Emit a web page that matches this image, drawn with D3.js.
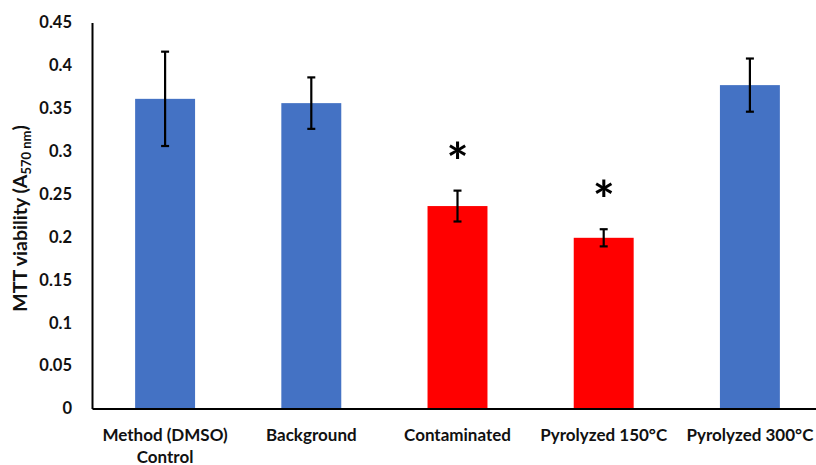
<!DOCTYPE html>
<html>
<head>
<meta charset="utf-8">
<script src="https://cdn.jsdelivr.net/npm/d3@7"></script>
<style>
  body { margin: 0; background: #fff; }
  text { font-family: Lato, "Open Sans", sans-serif; font-weight: bold; fill: #111; }
</style>
</head>
<body>
<div id="chart"></div>
<script>
  /**
   * DATA
   * */
  const categories = ["Method (DMSO)\nControl", "Background", "Contaminated", "Pyrolyzed 150°C", "Pyrolyzed 300°C"];
  const values = [0.361, 0.356, 0.236, 0.199, 0.377];
  const errors = [0.055, 0.030, 0.018, 0.010, 0.031];
  const barColors = ["#4472C4", "#4472C4", "#FF0000", "#FF0000", "#4472C4"];
  const marks = ["", "", "*", "*", ""];
  const yTicks = [0, 0.05, 0.1, 0.15, 0.2, 0.25, 0.3, 0.35, 0.4, 0.45];

  /**
   * CONSTANTS
   * */
  const width = 816, height = 465;
  const margin = { top: 22.5, bottom: 56.5, left: 92, right: -7 };

  const svg = d3.select("#chart")
    .append("svg")
    .attr("width", width)
    .attr("height", height);

  const xScale = d3.scaleBand()
    .domain(categories)
    .range([margin.left, width - margin.right])
    .paddingInner(0.59)
    .paddingOuter(0.295);

  const yScale = d3.scaleLinear()
    .domain([0, 0.45])
    .range([height - margin.bottom, margin.top]);

  // bars
  svg.selectAll("rect.bar")
    .data(values)
    .join("rect")
    .attr("class", "bar")
    .attr("x", (d, i) => xScale(categories[i]))
    .attr("width", xScale.bandwidth())
    .attr("y", d => yScale(d))
    .attr("height", d => yScale(0) - yScale(d))
    .attr("fill", (d, i) => barColors[i]);

  // error bars
  const cx = i => xScale(categories[i]) + xScale.bandwidth() / 2;
  const err = svg.selectAll("g.err")
    .data(values)
    .join("g")
    .attr("class", "err")
    .attr("stroke", "#000")
    .attr("stroke-width", 2.2);
  err.append("line")
    .attr("x1", (d, i) => cx(i)).attr("x2", (d, i) => cx(i))
    .attr("y1", (d, i) => yScale(d + errors[i]))
    .attr("y2", (d, i) => yScale(d - errors[i]));
  err.append("line")
    .attr("x1", (d, i) => cx(i) - 4).attr("x2", (d, i) => cx(i) + 4)
    .attr("y1", (d, i) => yScale(d + errors[i]))
    .attr("y2", (d, i) => yScale(d + errors[i]));
  err.append("line")
    .attr("x1", (d, i) => cx(i) - 4).attr("x2", (d, i) => cx(i) + 4)
    .attr("y1", (d, i) => yScale(d - errors[i]))
    .attr("y2", (d, i) => yScale(d - errors[i]));

  // significance marks
  svg.selectAll("text.star")
    .data(values)
    .join("text")
    .attr("class", "star")
    .attr("x", (d, i) => cx(i))
    .attr("y", (d, i) => yScale(d + errors[i]) - 10)
    .attr("text-anchor", "middle")
    .style("font-size", "52px")
    .style("fill", "#000")
    .text((d, i) => marks[i]);

  // y axis
  const yAxis = d3.axisLeft(yScale)
    .tickValues(yTicks)
    .tickSize(0)
    .tickPadding(20)
    .tickFormat(d => d3.format("")(+d.toFixed(2)));
  svg.append("g")
    .attr("class", "y-axis")
    .attr("transform", `translate(${margin.left},0)`)
    .call(yAxis)
    .call(g => g.select(".domain").attr("stroke", "#000").attr("stroke-width", 2))
    .call(g => g.selectAll("text").style("font-size", "16.5px"));

  // x axis
  const xAxis = d3.axisBottom(xScale).tickSize(0).tickPadding(0).tickFormat("");
  svg.append("g")
    .attr("class", "x-axis")
    .attr("transform", `translate(0,${height - margin.bottom})`)
    .call(xAxis)
    .call(g => g.select(".domain").attr("stroke", "#000").attr("stroke-width", 2));

  svg.selectAll("text.cat")
    .data(categories)
    .join("text")
    .attr("class", "cat")
    .attr("text-anchor", "middle")
    .attr("transform", d => `translate(${xScale(d) + xScale.bandwidth() / 2},${height - margin.bottom + 32})`)
    .style("font-size", "17px")
    .selectAll("tspan")
    .data(d => d.split("\n"))
    .join("tspan")
    .attr("x", 0)
    .attr("dy", (d, i) => i === 0 ? 0 : 22)
    .text(d => d);

  // y label
  const yLabel = svg.append("text")
    .attr("transform", `translate(27,${(margin.top + height - margin.bottom) / 2 + 3}) rotate(-90)`)
    .attr("text-anchor", "middle")
    .style("font-size", "19.5px");
  yLabel.append("tspan").text("MTT viability (A");
  yLabel.append("tspan").attr("dy", 4).style("font-size", "13px").text("570 nm");
  yLabel.append("tspan").attr("dy", -4).text(")");
</script>
</body>
</html>
